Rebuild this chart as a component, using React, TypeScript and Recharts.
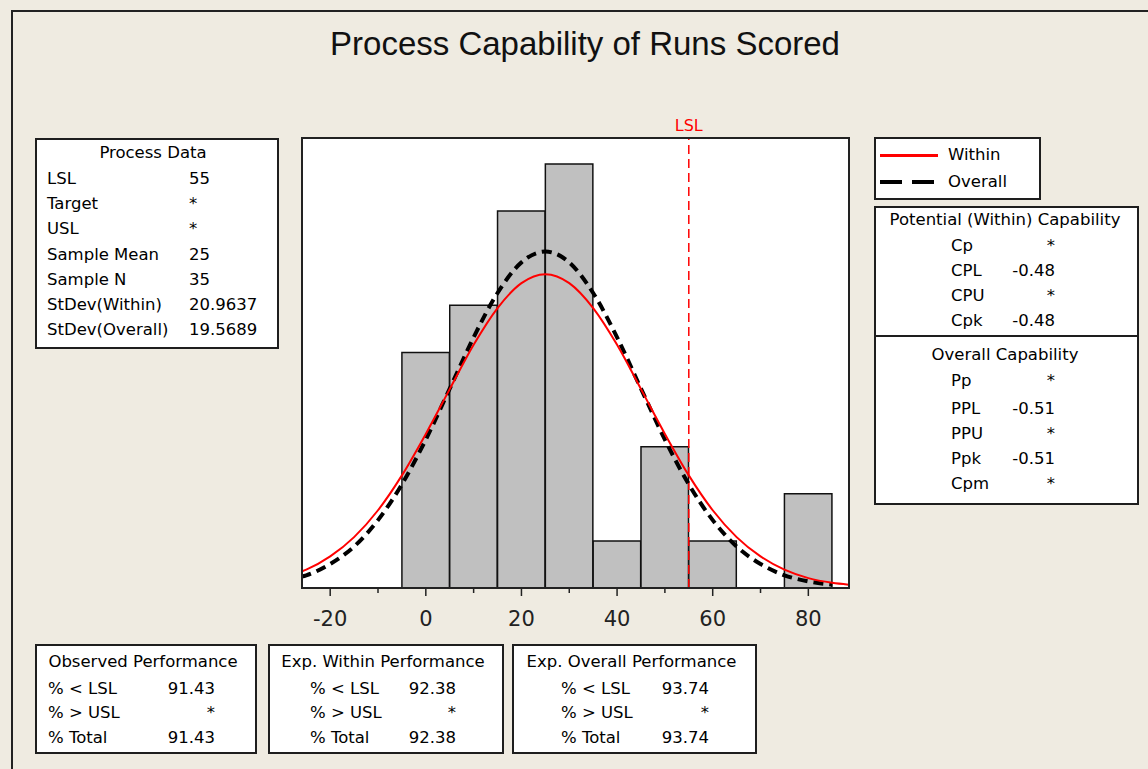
import { ComposedChart, Bar, Line, XAxis, YAxis, ReferenceLine } from "recharts";

// histogram of runs scored, bin width 10
const binCenters = [0, 10, 20, 30, 40, 50, 60, 70, 80];
const binCounts = [5, 6, 8, 9, 1, 3, 1, 0, 2];

// fitted curves
const curveX = [-26, -25, -20, -15, -10, -5, 0, 5, 10, 15, 20, 25, 30, 35, 40, 45, 50, 55, 60, 65, 70, 75, 80, 85, 88.4];
const withinFit = [0.35, 0.39, 0.67, 1.08, 1.65, 2.39, 3.27, 4.22, 5.16, 5.94, 6.47, 6.66, 6.47, 5.94, 5.16, 4.22, 3.27, 2.39, 1.65, 1.08, 0.67, 0.39, 0.21, 0.11, 0.07];
const overallFit = [0.24, 0.27, 0.51, 0.88, 1.44, 2.2, 3.15, 4.23, 5.32, 6.26, 6.91, 7.14, 6.91, 6.26, 5.32, 4.23, 3.15, 2.2, 1.44, 0.88, 0.51, 0.27, 0.14, 0.07, null];

const xTicks = [-20, -10, 0, 10, 20, 30, 40, 50, 60, 70, 80];
const lsl = 55;

const processLabels = ["LSL", "Target", "USL", "Sample Mean", "Sample N", "StDev(Within)", "StDev(Overall)"];
const processValues = ["55", "*", "*", "25", "35", "20.9637", "19.5689"];

const withinLabels = ["Cp", "CPL", "CPU", "Cpk"];
const withinValues = ["*", "-0.48", "*", "-0.48"];
const overallLabels = ["Pp", "PPL", "PPU", "Ppk", "Cpm"];
const overallValues = ["*", "-0.51", "*", "-0.51", "*"];

const perfLabels = ["% < LSL", "% > USL", "% Total"];
const observedPerf = ["91.43", "*", "91.43"];
const expWithinPerf = ["92.38", "*", "92.38"];
const expOverallPerf = ["93.74", "*", "93.74"];

const binData = binCenters.map((x, i) => ({ x, count: binCounts[i] > 0 ? binCounts[i] : null }));
const curveData = curveX.map((x, i) => ({ x, within: withinFit[i], overall: overallFit[i] }));

const W = 1148;
const H = 769;
const font = "'DejaVu Sans', sans-serif";
const bg = "#efebe1";

function XTick({ x, y, payload }: any) {
  const major = payload.value % 20 === 0;
  return (
    <g>
      <line x1={x} x2={x} y1={y} y2={y + (major ? 8 : 5)} stroke="#222" strokeWidth={1.5} />
      {major && (
        <text x={x} y={y + 37.5} textAnchor="middle" fontSize={21} fontFamily={font} fill="#222">
          {payload.value}
        </text>
      )}
    </g>
  );
}

function Txt({ x, y, children, align = "left", size = 16.5, color = "#000" }: any) {
  const style: any = {
    position: "absolute",
    top: y - 10,
    lineHeight: "20px",
    fontSize: size,
    fontFamily: font,
    color,
    whiteSpace: "nowrap",
  };
  if (align === "left") style.left = x;
  else if (align === "right") style.right = W - x;
  else {
    style.left = x - 200;
    style.width = 400;
    style.textAlign = "center";
  }
  return <div style={style}>{children}</div>;
}

function Box({ x, y, w, h }: any) {
  return (
    <div
      style={{
        position: "absolute",
        left: x,
        top: y,
        width: w,
        height: h,
        boxSizing: "border-box",
        border: "2px solid #1e1e1e",
        background: "#fff",
      }}
    />
  );
}

function PerfBox({ x, w, title, values, labelX, valueX }: any) {
  const rows = [689, 713, 738];
  return (
    <>
      <Box x={x} y={644} w={w} h={110} />
      <Txt x={x + w / 2 - 3} y={662} align="center">{title}</Txt>
      {perfLabels.map((l, i) => (
        <Txt key={l} x={labelX} y={rows[i]}>{l}</Txt>
      ))}
      {values.map((v: string, i: number) => (
        <Txt key={i} x={valueX} y={rows[i]} align="right">{v}</Txt>
      ))}
    </>
  );
}

export default function App() {
  const plot = { left: 301.5, top: 137.5, right: 848.5, bottom: 588 };
  const procRows = [179, 204, 229, 255, 280, 305, 330];
  const potRows = [246, 271, 296, 321];
  const ovRows = [381, 409, 434, 459, 484];

  return (
    <div style={{ position: "absolute", left: 0, top: 0, width: W, height: H, background: bg, overflow: "hidden" }}>
      <div
        style={{
          position: "absolute",
          left: 11,
          top: 10,
          width: W,
          height: H,
          borderLeft: "2px solid #222",
          borderTop: "2px solid #222",
        }}
      />
      <div
        style={{
          position: "absolute",
          left: 0,
          width: 1170,
          top: 23,
          lineHeight: "42px",
          textAlign: "center",
          fontSize: 33,
          fontFamily: "'Liberation Sans', Arial, sans-serif",
          color: "#111",
        }}
      >
        Process Capability of Runs Scored
      </div>

      <div
        style={{
          position: "absolute",
          left: plot.left,
          top: plot.top,
          width: plot.right - plot.left,
          height: plot.bottom - plot.top,
          background: "#fff",
        }}
      />
      <div style={{ position: "absolute", left: 0, top: 0 }}>
        <ComposedChart
          width={W}
          height={H}
          data={binData}
          margin={{ top: plot.top, left: plot.left, right: W - plot.right, bottom: H - plot.bottom - 30 }}
        >
          <XAxis
            xAxisId="bins"
            dataKey="x"
            type="number"
            domain={[-26, 88.4]}
            ticks={xTicks}
            interval={0}
            axisLine={false}
            tickLine={false}
            tickSize={0}
            tickMargin={0}
            tick={<XTick />}
            height={30}
            allowDataOverflow
          />
          <XAxis xAxisId="curve" dataKey="x" type="number" domain={[-26, 88.4]} hide allowDataOverflow />
          <YAxis type="number" domain={[0, 9.56]} hide width={0} allowDataOverflow />
          <Bar
            xAxisId="bins"
            dataKey="count"
            barSize={47.5}
            fill="#c0c0c0"
            stroke="#111"
            strokeWidth={1.5}
            isAnimationActive={false}
          />
          <ReferenceLine
            xAxisId="bins"
            x={lsl}
            stroke="#ff0000"
            strokeWidth={1.5}
            strokeDasharray="9 5"
            label={{ value: "LSL", position: "top", fill: "#ff0000", fontSize: 16, fontFamily: font, offset: 7 }}
          />
          <Line
            xAxisId="curve"
            data={curveData}
            dataKey="overall"
            type="monotone"
            stroke="#000"
            strokeWidth={4}
            strokeDasharray="10 6"
            dot={false}
            isAnimationActive={false}
          />
          <Line
            xAxisId="curve"
            data={curveData}
            dataKey="within"
            type="monotone"
            stroke="#ff0000"
            strokeWidth={2}
            dot={false}
            isAnimationActive={false}
          />
        </ComposedChart>
      </div>
      <div
        style={{
          position: "absolute",
          left: plot.left - 1,
          top: plot.top - 1,
          width: plot.right - plot.left + 2,
          height: plot.bottom - plot.top + 2,
          boxSizing: "border-box",
          border: "2px solid #222",
          pointerEvents: "none",
        }}
      />

      {/* Process Data */}
      <Box x={35} y={138} w={244} h={211} />
      <Txt x={153} y={153} align="center">Process Data</Txt>
      {processLabels.map((l, i) => (
        <Txt key={l} x={47} y={procRows[i]}>{l}</Txt>
      ))}
      {processValues.map((v, i) => (
        <Txt key={i} x={189} y={procRows[i]}>{v}</Txt>
      ))}

      {/* legend */}
      <Box x={874} y={137} w={167} h={63} />
      <div style={{ position: "absolute", left: 880, top: 154, width: 58, height: 2.5, background: "#ff0000" }} />
      <Txt x={948} y={155}>Within</Txt>
      <div style={{ position: "absolute", left: 880, top: 180, width: 22, height: 4, background: "#000" }} />
      <div style={{ position: "absolute", left: 912, top: 180, width: 22, height: 4, background: "#000" }} />
      <Txt x={948} y={182}>Overall</Txt>

      {/* capability */}
      <Box x={874} y={206} w={265} h={299} />
      <div style={{ position: "absolute", left: 874, top: 335, width: 265, height: 2, background: "#1e1e1e" }} />
      <Txt x={1005} y={220} align="center">Potential (Within) Capability</Txt>
      {withinLabels.map((l, i) => (
        <Txt key={l} x={951} y={potRows[i]}>{l}</Txt>
      ))}
      {withinValues.map((v, i) => (
        <Txt key={i} x={1055} y={potRows[i]} align="right">{v}</Txt>
      ))}
      <Txt x={1005} y={355} align="center">Overall Capability</Txt>
      {overallLabels.map((l, i) => (
        <Txt key={l} x={951} y={ovRows[i]}>{l}</Txt>
      ))}
      {overallValues.map((v, i) => (
        <Txt key={i} x={1055} y={ovRows[i]} align="right">{v}</Txt>
      ))}

      <PerfBox x={35} w={222} title="Observed Performance" values={observedPerf} labelX={48} valueX={215} />
      <PerfBox x={268} w={236} title="Exp. Within Performance" values={expWithinPerf} labelX={310} valueX={456} />
      <PerfBox x={512} w={245} title="Exp. Overall Performance" values={expOverallPerf} labelX={561} valueX={709} />
    </div>
  );
}
